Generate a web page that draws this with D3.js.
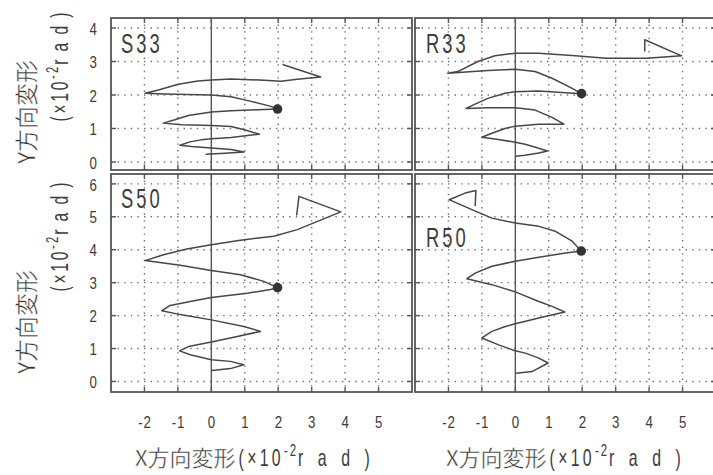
<!DOCTYPE html>
<html><head><meta charset="utf-8">
<script src="https://cdn.jsdelivr.net/npm/d3@7"></script>
<style>
body{margin:0;background:#fff}
svg{display:block}
</style></head><body>
<svg id="chart" width="713" height="475"></svg>
<script>
// Drift trajectories (x, y) in units of 1e-2 rad, in loading order
const s33 = [[-0.17,0.23],[0.4,0.26],[0.98,0.30],[0.59,0.37],[0,0.42],[-0.59,0.46],[-0.94,0.50],
  [-0.64,0.60],[-0.3,0.66],[0,0.69],[0.59,0.73],[1.44,0.83],[0.99,0.96],[0.59,1.06],[0,1.09],
  [-0.89,1.11],[-1.44,1.16],[-1.09,1.26],[-0.69,1.39],[0,1.49],[0.59,1.53],[1.39,1.56],[1.98,1.58],
  [1.78,1.66],[1.19,1.81],[0.59,1.95],[0,2.0],[-1.39,2.03],[-1.98,2.05],[-1.58,2.15],[-0.99,2.32],
  [-0.4,2.42],[0,2.45],[0.6,2.48],[1.58,2.44],[2.08,2.41],[2.57,2.47],[3.27,2.54],[2.13,2.91]];
const r33 = [[0,0.17],[0.29,0.2],[0.7,0.27],[0.96,0.33],[0.6,0.44],[0.29,0.53],[0,0.59],[-0.51,0.67],
  [-1.0,0.74],[-0.72,0.85],[-0.31,1.0],[0,1.07],[0.69,1.13],[1.45,1.13],[1.1,1.33],[0.59,1.55],
  [0,1.62],[-0.82,1.62],[-1.47,1.6],[-1.22,1.72],[-0.82,1.9],[-0.31,2.05],[0,2.1],[0.69,2.12],
  [1.5,2.07],[1.98,2.04],[1.7,2.2],[1.1,2.5],[0.59,2.7],[0,2.77],[-0.82,2.73],[-2.02,2.65],
  [-1.72,2.7],[-1.12,3.0],[-0.61,3.17],[0,3.25],[0.69,3.25],[1.7,3.18],[2.71,3.1],[3.92,3.1],
  [4.97,3.17],[3.87,3.65],[3.87,3.3]];
const s50 = [[0.02,0.33],[0.57,0.39],[0.97,0.51],[0.57,0.61],[0,0.66],[-0.63,0.81],[-0.95,0.93],
  [-0.68,1.06],[0,1.2],[0.57,1.32],[1.47,1.52],[0.97,1.67],[0,1.87],[-0.93,2.03],[-1.48,2.15],
  [-1.23,2.31],[-0.63,2.43],[0,2.55],[1.07,2.68],[1.77,2.79],[1.98,2.85],[1.57,3.04],[0.87,3.24],
  [0,3.37],[-0.93,3.53],[-1.98,3.67],[-1.43,3.85],[-0.73,4.02],[0,4.15],[0.87,4.29],[1.87,4.41],
  [2.57,4.61],[3.87,5.15],[2.62,5.62],[2.55,5.04]];
const r50 = [[0.02,0.25],[0.5,0.3],[0.98,0.56],[0.7,0.71],[0.3,0.86],[0,0.93],[-0.5,1.11],[-1.0,1.32],
  [-0.7,1.52],[-0.3,1.67],[0,1.75],[0.7,1.93],[1.48,2.11],[1.1,2.28],[0.7,2.43],[0,2.72],[-0.7,2.94],
  [-1.45,3.12],[-1.2,3.29],[-0.7,3.5],[0,3.65],[0.7,3.77],[1.5,3.9],[1.97,3.96],[1.7,4.26],[1.2,4.56],
  [0.7,4.71],[0,4.81],[-0.7,4.96],[-1.3,5.22],[-1.98,5.52],[-1.5,5.72],[-1.18,5.8],[-1.2,5.33]];

// Marked points (filled circles)
const s33Dot = [1.98, 1.58];
const r33Dot = [1.98, 2.04];
const s50Dot = [1.98, 2.85];
const r50Dot = [1.97, 3.96];

const panelNames = ["S33", "R33", "S50", "R50"];
const xTicks = [-2, -1, 0, 1, 2, 3, 4, 5];
const yTicksTop = [0, 1, 2, 3, 4];
const yTicksBottom = [0, 1, 2, 3, 4, 5, 6];
const yTitleMain = "Y方向変形";
const xTitleMain = "X方向変形";

const LATIN = "'Liberation Sans',Arial,sans-serif";
const CJK = "'Noto Sans CJK JP','Noto Sans CJK SC',sans-serif";
const INK = "#3c3c3c";

const svg = d3.select("#chart");

// Shared scales
const xLeft = d3.scaleLinear().domain([-3, 6]).range([111, 412]);
const xRight = d3.scaleLinear().domain([-3, 6]).range([415, 716]);
const yTop = d3.scaleLinear().domain([-0.24, 4.3]).range([170, 18]);
const yBottom = d3.scaleLinear().domain([-0.32, 6.3]).range([392, 174]);

const panels = [
  {name: panelNames[0], data: s33, dot: s33Dot, x: xLeft, y: yTop, yt: yTicksTop, lab: [121, 53]},
  {name: panelNames[1], data: r33, dot: r33Dot, x: xRight, y: yTop, yt: yTicksTop, lab: [426, 53]},
  {name: panelNames[2], data: s50, dot: s50Dot, x: xLeft, y: yBottom, yt: yTicksBottom, lab: [121, 208]},
  {name: panelNames[3], data: r50, dot: r50Dot, x: xRight, y: yBottom, yt: yTicksBottom, lab: [426, 247]}
];

panels.forEach((p, i) => {
  const [x0, x1] = p.x.range();
  const [y0, y1] = p.y.range(); // y0 bottom, y1 top
  const g = svg.append("g");
  const clipId = "clip" + i;
  svg.append("clipPath").attr("id", clipId)
    .append("rect").attr("x", x0).attr("y", y1).attr("width", x1 - x0).attr("height", y0 - y1);

  const inner = g.append("g").attr("clip-path", `url(#${clipId})`);

  // dotted grid
  inner.selectAll(".gx").data(xTicks.filter(d => d !== 0)).join("line")
    .attr("x1", d => p.x(d)).attr("x2", d => p.x(d))
    .attr("y1", y1).attr("y2", y0)
    .attr("stroke", "#6f6f6f").attr("stroke-width", 1.4)
    .attr("stroke-dasharray", "1.4,5.2");
  inner.selectAll(".gy").data(p.yt).join("line")
    .attr("x1", x0).attr("x2", x1)
    .attr("y1", d => p.y(d)).attr("y2", d => p.y(d))
    .attr("stroke", "#6f6f6f").attr("stroke-width", 1.4)
    .attr("stroke-dasharray", "1.4,5.2");

  // x = 0 reference line
  inner.append("line")
    .attr("x1", p.x(0)).attr("x2", p.x(0)).attr("y1", y1).attr("y2", y0)
    .attr("stroke", "#555").attr("stroke-width", 1.4);

  // inward ticks on all four sides
  const tl = 5;
  inner.selectAll(".tt").data(xTicks).join("line")
    .attr("x1", d => p.x(d)).attr("x2", d => p.x(d))
    .attr("y1", y1).attr("y2", y1 + tl).attr("stroke", "#555").attr("stroke-width", 1.4);
  inner.selectAll(".tb").data(xTicks).join("line")
    .attr("x1", d => p.x(d)).attr("x2", d => p.x(d))
    .attr("y1", y0).attr("y2", y0 - tl).attr("stroke", "#555").attr("stroke-width", 1.4);
  inner.selectAll(".tlft").data(p.yt).join("line")
    .attr("x1", x0).attr("x2", x0 + tl)
    .attr("y1", d => p.y(d)).attr("y2", d => p.y(d)).attr("stroke", "#555").attr("stroke-width", 1.4);
  inner.selectAll(".trgt").data(p.yt).join("line")
    .attr("x1", x1).attr("x2", x1 - tl)
    .attr("y1", d => p.y(d)).attr("y2", d => p.y(d)).attr("stroke", "#555").attr("stroke-width", 1.4);

  // trajectory
  const line = d3.line().x(d => p.x(d[0])).y(d => p.y(d[1]));
  inner.append("path").datum(p.data)
    .attr("d", line).attr("fill", "none")
    .attr("stroke", "#474747").attr("stroke-width", 1.5)
    .attr("stroke-linejoin", "round");

  inner.append("circle")
    .attr("cx", p.x(p.dot[0])).attr("cy", p.y(p.dot[1])).attr("r", 4.8)
    .attr("fill", "#333");

  // frame
  g.append("rect").attr("x", x0).attr("y", y1)
    .attr("width", x1 - x0).attr("height", y0 - y1)
    .attr("fill", "none").attr("stroke", "#555").attr("stroke-width", 1.8);

  g.append("text")
    .attr("transform", `translate(${p.lab[0]},${p.lab[1]}) scale(0.68,1)`)
    .attr("font-family", LATIN).attr("font-size", 27)
    .attr("letter-spacing", 4.5)
    .attr("fill", INK).text(p.name);
});

// y tick labels (left side)
function yLabels(scale, ticks) {
  const ax = d3.axisLeft(scale).tickValues(ticks).tickSize(0).tickPadding(0)
    .tickFormat(d => String(d));
  const g = svg.append("g").attr("transform", "translate(97,0)").call(ax);
  g.select(".domain").remove();
  g.selectAll("text").attr("font-family", LATIN).attr("font-size", 17).attr("fill", INK)
    .attr("dy", "0.36em").attr("transform", "scale(0.78,1)");
}
yLabels(yTop, yTicksTop);
yLabels(yBottom, yTicksBottom);

// x tick labels (below bottom panels)
function xLabels(scale) {
  const ax = d3.axisBottom(scale).tickValues(xTicks).tickSize(0).tickPadding(0)
    .tickFormat(d => String(d));
  const g = svg.append("g").attr("transform", "translate(0,416)").call(ax);
  g.select(".domain").remove();
  g.selectAll("text").attr("font-family", LATIN).attr("font-size", 17).attr("fill", INK)
    .attr("dy", "0.71em").attr("letter-spacing", 1).attr("transform", "scale(0.78,1)");
}
xLabels(xLeft);
xLabels(xRight);

// unit suffix "(×10^-2 rad)" in squeezed lettering; returns the group and its width
function unitText(parent, size, sx, lsHead, lsTail) {
  const outer = parent.append("g");
  const t = outer.append("g").attr("transform", `scale(${sx},1)`)
    .append("text").attr("font-family", LATIN).attr("fill", INK);
  t.append("tspan").attr("font-size", size).attr("letter-spacing", lsHead).text("(×10");
  t.append("tspan").attr("font-size", size * 0.72)
    .attr("dy", -size * 0.42).attr("letter-spacing", 3).text("-2");
  t.append("tspan").attr("font-size", size)
    .attr("dy", size * 0.42).attr("letter-spacing", lsTail).text("rad");
  t.append("tspan").attr("font-size", size).text(")");
  const w = outer.node().getBBox().width;
  return {g: outer, w: w};
}

// light-weight CJK lettering: a thin white outline trims the glyph strokes
function thinCJK(sel, size) {
  return sel.attr("font-family", CJK).attr("font-size", size).attr("fill", "#333")
    .attr("stroke", "#fff").attr("stroke-width", 0.45);
}

// x axis titles: CJK part then unit part
[[xLeft, 135], [xRight, 446]].forEach(([sc, x0]) => {
  const head = thinCJK(svg.append("text").attr("x", x0).attr("y", 466), 22).text(xTitleMain);
  const hw = head.node().getComputedTextLength();
  const u = unitText(svg, 24, 0.66, 5, 22);
  u.g.attr("transform", `translate(${x0 + hw + 3},466)`);
});

// y axis titles (rotated, two lines)
[[yTop, 112, 67], [yBottom, 322, 237]].forEach(([sc, c1, c2]) => {
  thinCJK(svg.append("text")
    .attr("transform", `translate(35,${c1}) rotate(-90)`)
    .attr("text-anchor", "middle"), 23).text(yTitleMain);
  const holder = svg.append("g");
  const u = unitText(holder, 23, 0.68, 4, 12);
  u.g.attr("transform", `translate(${-u.w / 2},0)`);
  holder.attr("transform", `translate(68,${c2}) rotate(-90)`);
});
</script>
</body></html>
